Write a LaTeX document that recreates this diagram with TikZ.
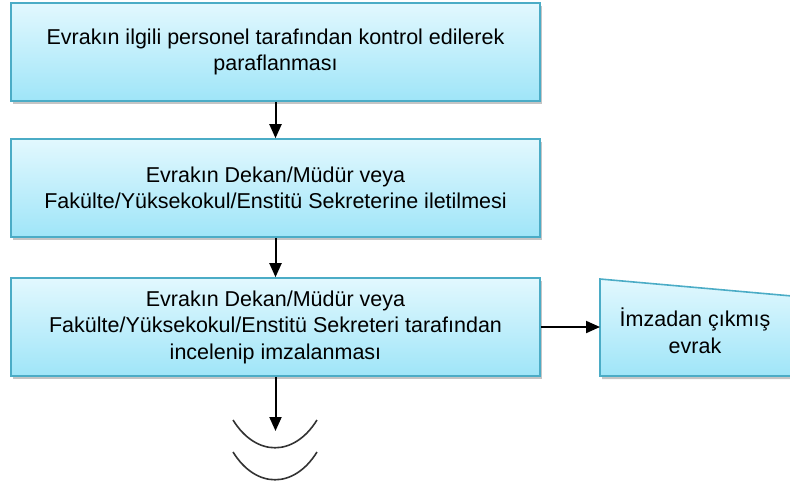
\documentclass[tikz,border=0pt]{standalone}
\usepackage{fontspec}
\setmainfont{Liberation Sans}
\usetikzlibrary{arrows.meta,shadows,positioning}
\definecolor{boxline}{HTML}{4BACC6}
\definecolor{boxtop}{HTML}{E2F8FE}
\definecolor{boxbot}{HTML}{9FE5F8}
\tikzset{
  stepbox/.style={draw=boxline, line width=1.6pt, top color=boxtop, bottom color=boxbot,
    drop shadow={shadow xshift=2pt, shadow yshift=-3pt, fill=black!45, opacity=.5},
    minimum width=529pt, minimum height=98pt, align=center, inner sep=0pt,
    font=\fontsize{21.5}{26.5}\selectfont},
  flow/.style={-{Triangle[length=14pt,width=12pt]}, line width=2pt},
  wave/.style={line width=1.6pt, draw=black!80}
}
\begin{document}
\begin{tikzpicture}[x=1pt,y=-1pt]
            \useasboundingbox (0,0) rectangle (790,491);

            \node[stepbox] (parafe) at (275.5,52) {Evrakın ilgili personel tarafından kontrol edilerek\\paraflanması};
            \node[stepbox] (ilet) at (275.5,188) {Evrakın Dekan/Müdür veya\\Fakülte/Yüksekokul/Enstitü Sekreterine iletilmesi};
            \node[stepbox] (imza) at (275.5,327) {Evrakın Dekan/Müdür veya\\Fakülte/Yüksekokul/Enstitü Sekreteri tarafından\\incelenip imzalanması};

            % manual input shape on the right
            \draw[draw=boxline, line width=1.6pt, top color=boxtop, bottom color=boxbot,
              drop shadow={shadow xshift=2pt, shadow yshift=-3pt, fill=black!45, opacity=.5}]
              (600,279) -- (792,296) -- (792,376) -- (600,376) -- cycle;
            \node[align=center, font=\fontsize{21.5}{26.5}\selectfont] (evrak) at (695,331) {İmzadan çıkmış\\evrak};
            \coordinate (evrakgiris) at (600,327);
            \coordinate (son) at (275.5,431);

            \draw[flow] (parafe.south) -- (ilet.north);
            \draw[flow] (ilet.south) -- (imza.north);
            \draw[flow] (imza.east) -- (evrakgiris);
            \draw[flow] (imza.south) -- (son);

            % continuation marks
            \draw[wave] (233,420) .. controls (256,457) and (294,457) .. (317,420);
            \draw[wave] (233,452) .. controls (256,489) and (294,489) .. (317,452);
        \end{tikzpicture}
\end{document}
